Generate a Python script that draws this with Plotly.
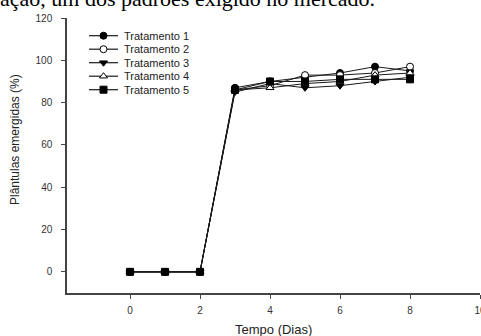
import plotly.graph_objects as go

dias = [0, 1, 2, 3, 4, 5, 6, 7, 8]
trat1 = [0, 0, 0, 87, 90, 92, 94, 97, 95]
trat2 = [0, 0, 0, 86, 88, 93, 93, 94, 97]
trat3 = [0, 0, 0, 85, 89, 87, 88, 90, 92]
trat4 = [0, 0, 0, 86, 87, 89, 90, 93, 94]
trat5 = [0, 0, 0, 86, 90, 90, 91, 91, 91]
nomes = ["Tratamento 1", "Tratamento 2", "Tratamento 3", "Tratamento 4", "Tratamento 5"]
x_ticks = [0, 2, 4, 6, 8, 10]
y_ticks = [0, 20, 40, 60, 80, 100, 120]

simbolos = ["circle", "circle", "triangle-down", "triangle-up", "square"]
preench = ["black", "white", "black", "white", "black"]
valores = [trat1, trat2, trat3, trat4, trat5]

W, H = 481, 336
L, R, T, B = 67, 1, 18, 43
PW, PH = W - L - R, H - T - B

fig = go.Figure()
for name, vals, sym, fill in zip(nomes, valores, simbolos, preench):
    fig.add_trace(go.Scatter(
        x=dias, y=vals, mode="lines+markers", name=name, showlegend=False,
        line=dict(color="#1a1a1a", width=1),
        marker=dict(symbol=sym, size=7, color=fill,
                    line=dict(color="black", width=1)),
    ))

# manual compact legend (pixel-space overlay axes)
row_y0, row_dy = 35.7, 13.5
lx0, lx1, ltx = 89, 118, 122
annotations = []
for i, (name, sym, fill) in enumerate(zip(nomes, simbolos, preench)):
    yy = row_y0 + i * row_dy
    fig.add_trace(go.Scatter(
        x=[lx0, (lx0 + lx1) / 2, lx1], y=[yy, yy, yy], mode="lines",
        xaxis="x2", yaxis="y2", showlegend=False, hoverinfo="skip",
        line=dict(color="#1a1a1a", width=1.2),
    ))
    fig.add_trace(go.Scatter(
        x=[(lx0 + lx1) / 2], y=[yy], mode="markers",
        xaxis="x2", yaxis="y2", showlegend=False, hoverinfo="skip",
        marker=dict(symbol=sym, size=7, color=fill, line=dict(color="black", width=1)),
    ))
    annotations.append(dict(
        text=name, xref="x2", yref="y2", x=ltx, y=yy,
        xanchor="left", yanchor="middle", showarrow=False,
        font=dict(family="Liberation Sans, Arial", size=11, color="#222"),
    ))

def px_to_paper_x(px):
    return (px - L) / PW

def px_to_paper_y(py):
    return (H - B - py) / PH

annotations += [
    dict(text="Tempo (Dias)", xref="paper", yref="paper",
         x=0.5, y=px_to_paper_y(329), xanchor="center", yanchor="middle",
         showarrow=False,
         font=dict(family="Liberation Sans, Arial", size=13, color="#222")),
    dict(text="Plântulas emergidas (%)", xref="paper", yref="paper",
         x=px_to_paper_x(15), y=px_to_paper_y(139), xanchor="center", yanchor="middle",
         textangle=-90, showarrow=False,
         font=dict(family="Liberation Sans, Arial", size=12, color="#222")),
    dict(text="ação, um dos padrões exigido no mercado.",
         xref="paper", yref="paper", x=px_to_paper_x(-2), y=px_to_paper_y(-1.5),
         xanchor="left", yanchor="middle", showarrow=False,
         font=dict(family="Liberation Serif, Times New Roman", size=22, color="black")),
]

axis_font = dict(family="Liberation Sans, Arial", size=10, color="#333")
fig.update_layout(
    width=W, height=H,
    margin=dict(l=L, r=R, t=T, b=B, autoexpand=False),
    paper_bgcolor="white", plot_bgcolor="white",
    showlegend=False,
    xaxis=dict(range=[-1.8, 10], tickvals=x_ticks, automargin=False,
               showgrid=False, zeroline=False, showline=True,
               linecolor="#444", linewidth=1.5, ticks="outside",
               ticklen=4, tickcolor="#444", tickfont=axis_font,
               ticklabelstandoff=3, ticklabeloverflow="allow"),
    yaxis=dict(range=[-10, 120], tickvals=y_ticks, automargin=False,
               showgrid=False, zeroline=False, showline=True,
               linecolor="#444", linewidth=1.5, ticks="outside",
               ticklen=4, tickcolor="#444", tickfont=axis_font,
               ticklabelstandoff=7, ticklabeloverflow="allow"),
    xaxis2=dict(range=[L, W - R], overlaying="x", visible=False, fixedrange=True),
    yaxis2=dict(range=[H - B, T], overlaying="y", visible=False, fixedrange=True),
    annotations=annotations,
)

fig.write_html("out.html", config={"displayModeBar": False},
               post_script="document.body.style.margin='0';document.body.style.overflow='hidden';")
